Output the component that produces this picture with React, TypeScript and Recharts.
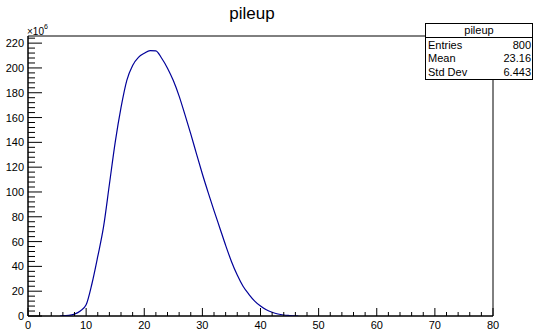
import React from 'react';
import { LineChart, Line, XAxis, YAxis, ReferenceArea } from 'recharts';

// pileup distribution, bin centre -> entries (x10^6)
const pileupX = [5.5, 6, 7, 8, 9, 10, 11, 12, 13, 14, 15, 16, 17, 18, 19, 20, 21, 22, 23, 24, 25, 26, 27, 28, 29, 30, 31, 32, 33, 34, 35, 36, 37, 38, 39, 40, 41, 42, 43, 44, 45, 46, 46.5];
const pileupY = [0, 0.3, 0.5, 1.5, 4, 9, 26, 48, 72, 106, 140, 168, 190, 202, 208.5, 211.8, 214, 213.8, 207.8, 199.8, 189.8, 177.3, 162.3, 146.8, 130.5, 114.5, 99.5, 85, 71, 57, 44, 33, 24, 17.5, 12, 8, 5, 3, 1.6, 0.8, 0.4, 0.1, 0];

const xTicks = [0, 2, 4, 6, 8, 10, 12, 14, 16, 18, 20, 22, 24, 26, 28, 30, 32, 34, 36, 38, 40, 42, 44, 46, 48, 50, 52, 54, 56, 58, 60, 62, 64, 66, 68, 70, 72, 74, 76, 78, 80];
const yTicks = [0, 4, 8, 12, 16, 20, 24, 28, 32, 36, 40, 44, 48, 52, 56, 60, 64, 68, 72, 76, 80, 84, 88, 92, 96, 100, 104, 108, 112, 116, 120, 124, 128, 132, 136, 140, 144, 148, 152, 156, 160, 164, 168, 172, 176, 180, 184, 188, 192, 196, 200, 204, 208, 212, 216, 220, 224];

const statsLabels = ['Entries', 'Mean', 'Std Dev'];
const statsValues = ['800', '23.16', '6.443'];

const Y_MAX = 225.75;
const FONT = '"Liberation Sans", Arial, sans-serif';

const data = pileupX.map((x, i) => ({ x, y: pileupY[i] }));

const XTick = (props: any) => {
  const { x, y, payload } = props;
  const major = payload.value % 10 === 0;
  return (
    <g>
      <line x1={x} y1={y} x2={x} y2={y - (major ? 8 : 4)} stroke="#000" />
      {major && (
        <text x={x} y={y + 13} textAnchor="middle" fontSize={11} fontFamily={FONT} fill="#000">
          {payload.value}
        </text>
      )}
    </g>
  );
};

const YTick = (props: any) => {
  const { x, y, payload } = props;
  const major = payload.value % 20 === 0;
  return (
    <g>
      <line x1={x} y1={y} x2={x + (major ? 14 : 7)} y2={y} stroke="#000" />
      {major && (
        <text x={x - 4} y={y + 4} textAnchor="end" fontSize={11} fontFamily={FONT} fill="#000">
          {payload.value}
        </text>
      )}
    </g>
  );
};

export default function App() {
  return (
    <div style={{ position: 'absolute', left: 0, top: 0, width: 541, height: 333, background: '#fff' }}>
      <LineChart width={541} height={333} data={data} margin={{ top: 36, right: 48, bottom: 0, left: 0 }}>
        <XAxis
          dataKey="x"
          type="number"
          domain={[0, 80]}
          ticks={xTicks}
          interval={0}
          height={17}
          tickSize={0}
          tickMargin={0}
          tickLine={false}
          axisLine={{ stroke: '#000' }}
          tick={<XTick />}
          allowDataOverflow
        />
        <YAxis
          type="number"
          domain={[0, Y_MAX]}
          ticks={yTicks}
          interval={0}
          width={28}
          tickSize={0}
          tickMargin={0}
          tickLine={false}
          axisLine={{ stroke: '#000' }}
          tick={<YTick />}
          allowDataOverflow
        />
        <ReferenceArea x1={0} x2={80} y1={0} y2={Y_MAX} fill="none" stroke="#000" strokeWidth={1} />
        <Line
          dataKey="y"
          type="monotone"
          stroke="#000099"
          strokeWidth={1.2}
          dot={false}
          isAnimationActive={false}
        />
      </LineChart>
      <svg width={541} height={333} style={{ position: 'absolute', left: 0, top: 0, pointerEvents: 'none' }} fontFamily={FONT}>
        <text x={252} y={19} textAnchor="middle" fontSize={17} fill="#000">pileup</text>
        <text x={27} y={35} fontSize={10} fill="#000">×10</text>
        <text x={44} y={29} fontSize={7} fill="#000">6</text>
        <rect x={425.5} y={23.5} width={107} height={56} fill="#fff" stroke="#000" />
        <line x1={425.5} y1={37.5} x2={532.5} y2={37.5} stroke="#000" />
        <text x={479} y={34} textAnchor="middle" fontSize={11} fill="#000">pileup</text>
        {statsLabels.map((label, i) => (
          <g key={label}>
            <text x={428} y={48.5 + i * 13.5} fontSize={11} fill="#000">{label}</text>
            <text x={531} y={48.5 + i * 13.5} textAnchor="end" fontSize={11} fill="#000">{statsValues[i]}</text>
          </g>
        ))}
      </svg>
    </div>
  );
}
